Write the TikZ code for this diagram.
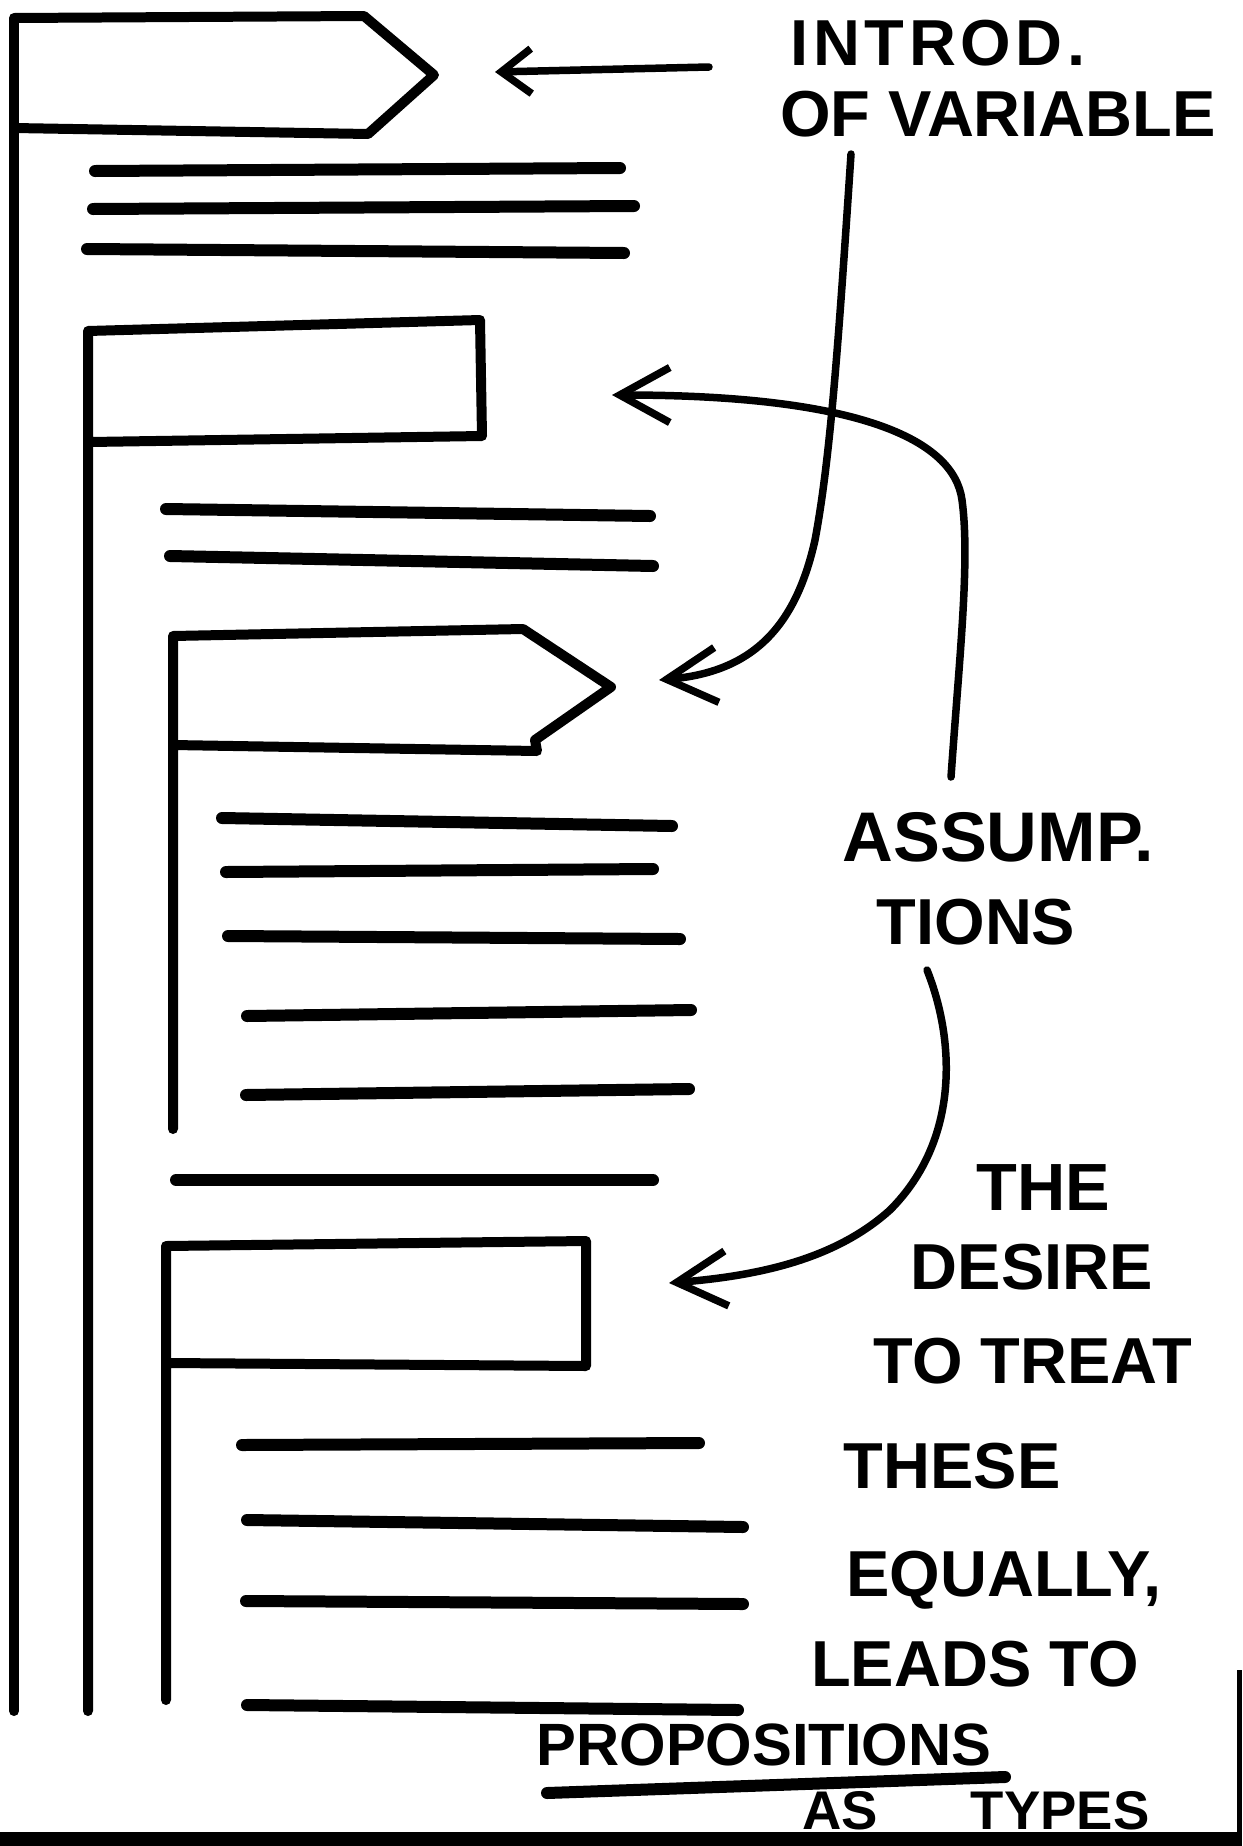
\documentclass[tikz,border=0pt]{standalone}
\usepackage{fontspec}
\usepackage{tikz}
\usetikzlibrary{arrows.meta,calc}
\newfontfamily\handfont{Liberation Sans}

\begin{document}
\begin{tikzpicture}[
  x=0.02cm, y=-0.02cm,
  box_line/.style ={draw=black, line width=0.2cm, line cap=round, line join=round},
  txt_line/.style ={draw=black, line width=0.24cm, line cap=round},
  arr/.style      ={-{Straight Barb[length=10mm, width=11mm]}, line width=0.15cm, line cap=round, line join=round, black},
  lbl/.style      ={font={\handfont\bfseries\fontsize{37}{44}\selectfont}, inner sep=0pt, anchor=base},
]
  \useasboundingbox (0,0) rectangle (1242,1846);

  % outer block with variable tag
  \draw[box_line] (14,1711) -- (14,18) -- (364,16) -- (434,75) -- (368,134) -- (14,128);
  \draw[txt_line] (95,171) -- (620,168);
  \draw[txt_line] (93,209) -- (634,206);
  \draw[txt_line] (87,249) -- (624,253);

  % first assumption
  \draw[box_line] (88,1711) -- (88,331) -- (480,320) -- (482,436) -- (90,442);
  \draw[txt_line] (166,509) -- (650,516);
  \draw[txt_line] (170,556) -- (653,566);

  % inner tag
  \draw[box_line] (173,1129) -- (173,636) -- (523,629) -- (611,687) -- (535,740) -- (537,751) -- (173,745);
  \draw[txt_line] (222,818) -- (672,826);
  \draw[txt_line] (226,872) -- (653,869);
  \draw[txt_line] (228,936) -- (680,939);
  \draw[txt_line] (247,1016) -- (691,1010);
  \draw[txt_line] (246,1095) -- (689,1089);
  \draw[txt_line] (176,1180) -- (653,1180);

  % second assumption
  \draw[box_line] (166,1700) -- (166,1246) -- (586,1241) -- (586,1366) -- (168,1363);
  \draw[txt_line] (242,1445) -- (699,1443);
  \draw[txt_line] (247,1520) -- (743,1527);
  \draw[txt_line] (246,1601) -- (743,1604);
  \draw[txt_line] (247,1705) -- (738,1710);

  % labels
  \node[lbl] (t_introd)  at (938,65)   {\addfontfeature{LetterSpace=7}INTROD.};
  \node[lbl] (t_var)     at (998,136)  {OF VARIABLE};
  \node[lbl, font={\handfont\bfseries\fontsize{40}{46}\selectfont}] (t_assump) at (998,861) {ASSUMP.};
  \node[lbl] (t_tions)   at (976,944)  {TIONS};
  \node[lbl, font={\handfont\bfseries\fontsize{38}{44}\selectfont}] (t_the) at (1043,1210) {THE};
  \node[lbl] (t_desire)  at (1032,1289) {DESIRE};
  \node[lbl] (t_treat)   at (1033,1383) {TO TREAT};
  \node[lbl] (t_these)   at (952,1488)  {THESE};
  \node[lbl] (t_equally) at (1004,1596) {EQUALLY,};
  \node[lbl] (t_leads)   at (975,1686)  {LEADS TO};
  \node[lbl, font={\handfont\bfseries\fontsize{34}{40}\selectfont}] (t_prop) at (764,1765) {PROPOSITIONS};
  \node[lbl, font={\handfont\bfseries\fontsize{31}{38}\selectfont}] (t_types) at (976,1829) {AS\hspace{1.7em}TYPES};
  \draw[txt_line] (547,1793) -- (1005,1777);

  % arrow ends
  \coordinate (a_var)   at (495,72);
  \coordinate (a_box2)  at (612,395);
  \coordinate (a_pent3) at (659,680);
  \coordinate (a_box4)  at (669,1283);

  \draw[arr, -{Straight Barb[length=6mm, width=9mm]}] ($(t_introd.base)+(-229,2)$) -- (a_var);
  \draw[arr] ($(t_var.base)+(-147,18)$) .. controls (838,350) and (830,460) .. (815,540)
             .. controls (795,630) and (750,672) .. (a_pent3);
  \draw[arr] ($(t_assump.base)+(-47,-84)$) .. controls (960,650) and (970,560) .. (962,500)
             .. controls (954,440) and (860,395) .. (a_box2);
  \draw[arr] ($(t_tions.base)+(-49,26)$) .. controls (955,1040) and (960,1140) .. (890,1210)
             .. controls (840,1255) and (770,1275) .. (a_box4);

  % scan edges
  \fill[black] (0,1832) rectangle (1242,1846);
  \fill[black] (1237,1670) rectangle (1242,1846);
\end{tikzpicture}
\end{document}
